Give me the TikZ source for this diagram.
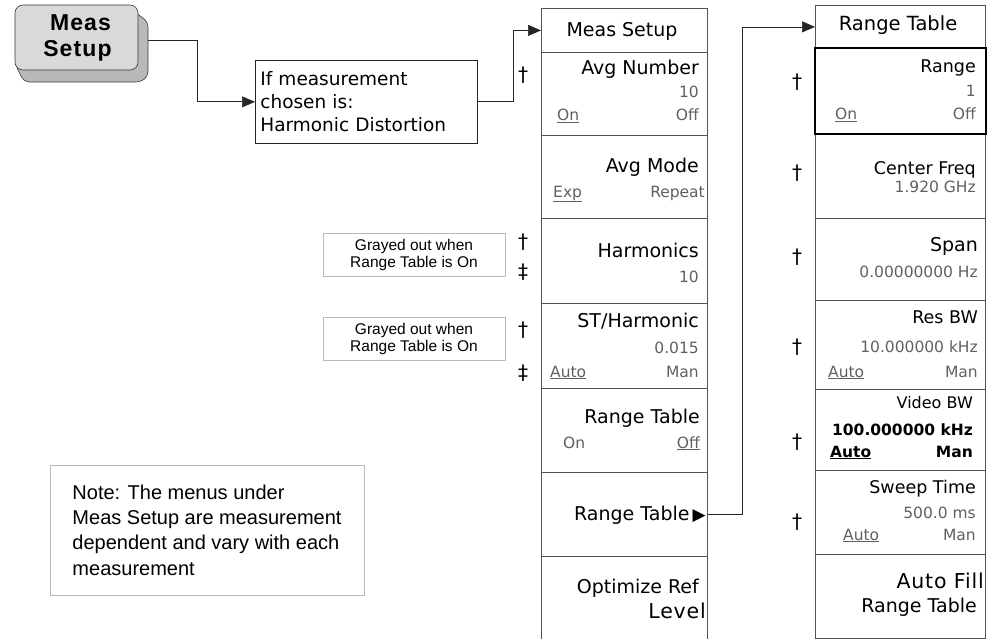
\documentclass[tikz,border=0pt]{standalone}
\usepackage{fontspec}
\setmainfont{Liberation Sans}
\newfontfamily\menufont{DejaVu Sans}
\usetikzlibrary{arrows.meta}

\begin{document}
\begin{tikzpicture}[x=1pt, y=-1pt,
    conn/.style={draw=gray!30!black, line width=0.7pt},
    tip/.style={-{Triangle[length=13pt,width=11pt]}},
    box/.style={draw=gray!60!black, line width=0.7pt, inner sep=0pt},
    softkey/.style={draw=gray!65!black, line width=0.8pt, minimum width=#1, inner sep=0pt, anchor=north west},
    lbl/.style={font=\menufont\fontsize{19}{21}\selectfont, inner sep=0pt, anchor=base east},
    lbls/.style={font=\menufont\fontsize{17.5}{20}\selectfont, inner sep=0pt, anchor=base east},
    big/.style={font=\menufont\fontsize{20.5}{23}\selectfont\addfontfeature{LetterSpace=4}, inner sep=0pt, anchor=base east},
    val/.style={font=\menufont\fontsize{15.5}{17}\selectfont, text=gray!75!black, inner sep=0pt, anchor=base east},
    valb/.style={font=\menufont\bfseries\fontsize{15.5}{17}\selectfont, inner sep=0pt, anchor=base east},
    optl/.style={val, anchor=base west},
    dag/.style={font=\menufont\fontsize{20}{20}\selectfont, inner sep=0pt},
]
\useasboundingbox (0,0) rectangle (987,639);

%tasto Meas Setup
\filldraw[fill=gray!55, draw=gray!45!black, line width=0.6pt, rounded corners=5pt]
    (126,5) -- (148,22) -- (148,76) -- (141,82) -- (24,82) -- (15,64) -- cycle;
\node[draw=gray!45!black, fill=gray!30, line width=0.6pt, rounded corners=8pt,
      minimum width=123, minimum height=65, align=center,
      font=\bfseries\fontsize{23}{26}\selectfont\addfontfeature{LetterSpace=5}] (key)
      at (76.5,37.5) {\hspace*{8pt}Meas\\\hspace*{2pt}Setup};
\coordinate (keyout) at (148,40);

%riquadro misura scelta
\node[box, draw=gray!30!black, anchor=north west, minimum width=222, minimum height=83,
      text width=212, inner xsep=5pt, align=left,
      font=\menufont\fontsize{18.5}{23}\selectfont] (cond)
      at (255,60) {If measurement\\chosen is:\\Harmonic Distortion};

%note
\node[box, draw=gray!55, minimum width=182, minimum height=43, align=center,
      font=\fontsize{15.5}{17}\selectfont] (gray1) at (414,254.5) {Grayed out when\\Range Table is On};
\node[box, draw=gray!55, minimum width=182, minimum height=43, align=center,
      font=\fontsize{15.5}{17}\selectfont] (gray2) at (414,339) {Grayed out when\\Range Table is On};
\node[box, draw=gray!55, minimum width=314, minimum height=130, align=left,
      font=\fontsize{20}{25.3}\selectfont] (note) at (207,530)
      {Note: The menus under\\Meas Setup are measurement\\dependent and vary with each\\measurement};

%menu Meas Setup
\node[softkey=166, minimum height=44] (m1hdr) at (541,8) {};
\foreach \n/\y/\h in {1/52/83, 2/135/83, 3/218/85, 4/303/85, 5/388/84, 6/472/84, 7/556/83}
    \node[softkey=166, minimum height=\h] (m1k\n) at (541,\y) {};
\node[lbl, anchor=base] (m1t) at (622,37) {Meas Setup};
\node[lbl] (m1a) at (699,75) {Avg Number};
\node[val] (m1av) at (699,98) {10};
\node[optl] (m1ao) at (557,121) {\underline{On}};
\node[val] (m1af) at (699,121) {Off};
\node[lbl] (m1m) at (699,172) {Avg Mode};
\node[optl] (m1me) at (553,197) {\underline{Exp}};
\node[val] (m1mr) at (705,197) {Repeat};
\node[lbl] (m1h) at (699,257) {Harmonics};
\node[val] (m1hv) at (699,282) {10};
\node[lbl] (m1s) at (699,327) {ST/Harmonic};
\node[val] (m1sv) at (699,353) {0.015};
\node[optl] (m1sa) at (550,377) {\underline{Auto}};
\node[val] (m1sm) at (699,377) {Man};
\node[lbl] (m1r) at (700,423) {Range Table};
\node[optl] (m1ro) at (563,448) {On};
\node[val] (m1rf) at (700,448) {\underline{Off}};
\node[lbl] (m1g) at (706,520) {Range Table\,{\fontsize{17}{17}\selectfont ▶}};
\node[lbl] (m1o) at (699,593) {Optimize Ref};
\node[big] (m1l) at (706,618) {Level};

%menu Range Table
\node[softkey=170, minimum height=43] (m2hdr) at (815,5) {};
\foreach \n/\y/\h in {1/48/85, 2/133/85, 3/218/82, 4/300/89, 5/389/81, 6/470/84, 7/554/84}
    \node[softkey=170, minimum height=\h] (m2k\n) at (815,\y) {};
\draw[line width=2pt] (m2k1.north west) rectangle (m2k1.south east);
\node[lbl, anchor=base, font=\menufont\fontsize{19.5}{21}\selectfont] (m2t) at (898,31) {Range Table};
\node[lbls] (m2r) at (976,73) {Range};
\node[val] (m2rv) at (976,97) {1};
\node[optl] (m2ro) at (835,120) {\underline{On}};
\node[val] (m2rf) at (976,120) {Off};
\node[lbls] (m2c) at (976,175) {Center Freq};
\node[val] (m2cv) at (976,193) {1.920 GHz};
\node[lbl] (m2s) at (978,251) {Span};
\node[val] (m2sv) at (978,277) {0.00000000 Hz};
\node[lbls] (m2b) at (978,323) {Res BW};
\node[val] (m2bv) at (978,352) {10.000000 kHz};
\node[optl] (m2ba) at (828,377) {\underline{Auto}};
\node[val] (m2bm) at (978,377) {Man};
\node[lbls, font=\menufont\fontsize{16}{18}\selectfont] (m2v) at (973,408) {Video BW};
\node[valb] (m2vv) at (973,435) {100.000000 kHz};
\node[valb, anchor=base west] (m2va) at (830,457) {\underline{Auto}};
\node[valb] (m2vm) at (973,457) {Man};
\node[lbls] (m2w) at (976,493) {Sweep Time};
\node[val] (m2wv) at (976,518) {500.0 ms};
\node[optl] (m2wa) at (843,540) {\underline{Auto}};
\node[val] (m2wm) at (976,540) {Man};
\node[big] (m2f) at (984,588) {Auto Fill};
\node[lbl] (m2g) at (977,612) {Range Table};

%croci
\node[dag] (d1) at (523,75) {†};
\node[dag] (d2) at (523,242) {†};
\node[dag] (d3) at (523,272) {‡};
\node[dag] (d4) at (523,330) {†};
\node[dag] (d5) at (523,373) {‡};
\node[dag] (d6) at (797,82) {†};
\node[dag] (d7) at (797,173) {†};
\node[dag] (d8) at (797,257) {†};
\node[dag] (d9) at (797,347) {†};
\node[dag] (d10) at (797,442) {†};
\node[dag] (d11) at (797,522) {†};

%collegamenti
\draw[conn, tip] (keyout) -- ++(49,0) |- (cond.west);
\draw[conn, tip] (cond.east) -- ++(36,0) |- (m1hdr.west);
\draw[conn, tip] (m1k6.east) -- ++(35,0) |- (m2hdr.west);

\end{tikzpicture}
\end{document}
